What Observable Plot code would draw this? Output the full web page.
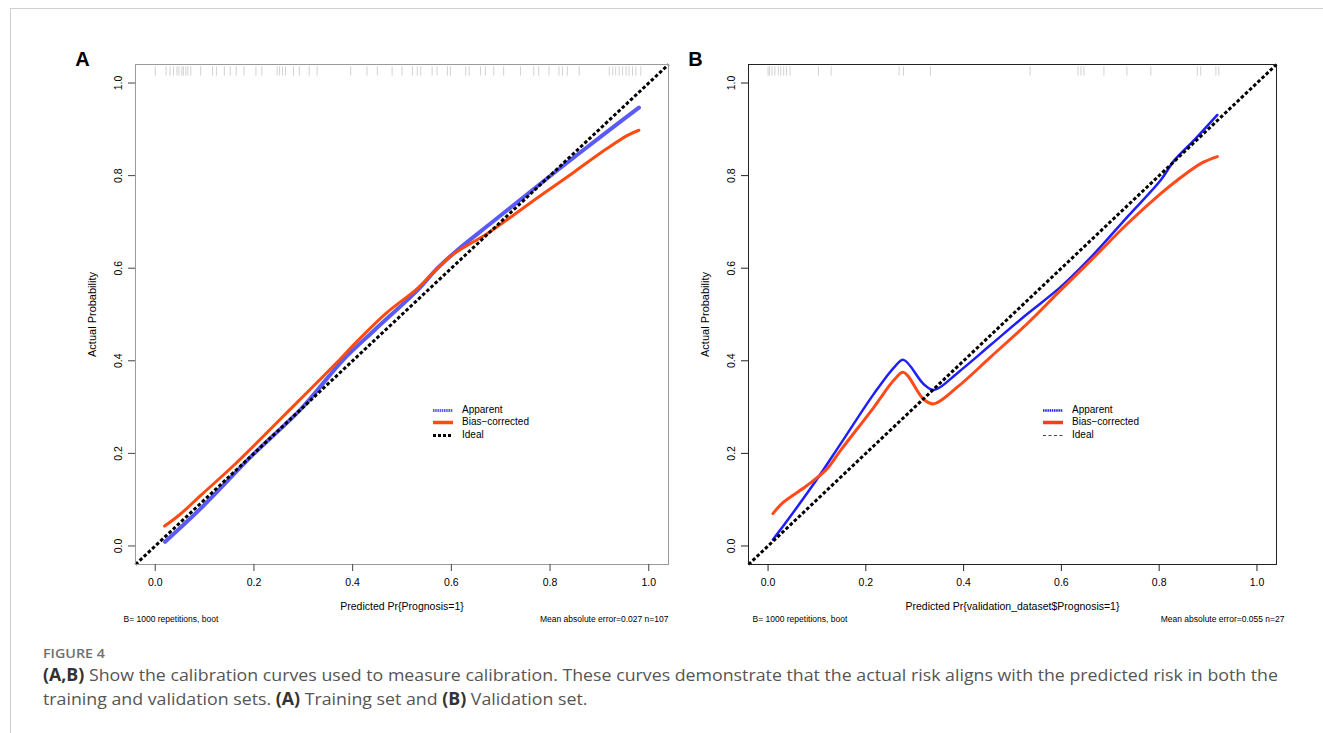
<!DOCTYPE html>
<html>
<head>
<meta charset="utf-8">
<script src="https://cdn.jsdelivr.net/npm/d3@7"></script>
<script src="https://cdn.jsdelivr.net/npm/@observablehq/plot@0.6"></script>
<style>
  html, body { margin: 0; padding: 0; background: #fff; }
  body { width: 1323px; height: 733px; position: relative; overflow: hidden; }
  #border { position: absolute; left: 10px; top: 8px; width: 1330px; height: 740px;
            border-top: 1px solid #cfcfcf; border-left: 1px solid #cfcfcf; }
  .panel { position: absolute; top: 40px; }
  .legend { position: absolute; font-family: "Liberation Sans", Arial, sans-serif; font-size: 10px; color: #000; }
  .cap { position: absolute; left: 43px; white-space: nowrap; transform-origin: 0 0;
         font-family: "Open Sans", "Noto Sans", sans-serif; color: #555; }
  .cap b { color: #333; font-weight: 700; }
</style>
</head>
<body>
<div id="border"></div>
<div id="pA" class="panel" style="left:60px"></div>
<div id="pB" class="panel" style="left:680px"></div>
<div id="legA" class="legend" style="left:430px;top:404px"></div>
<div id="legB" class="legend" style="left:1040px;top:404px"></div>
<div id="fig" class="cap" style="top:646px;font-size:12.5px;line-height:16px;color:#707070;font-weight:600">FIGURE 4</div>
<div id="l1" class="cap" style="top:664px;font-size:17px;line-height:22px"><b>(A,B)</b> Show the calibration curves used to measure calibration. These curves demonstrate that the actual risk aligns with the predicted risk in both the</div>
<div id="l2" class="cap" style="top:688px;font-size:17px;line-height:22px">training and validation sets. <b>(A)</b> Training set and <b>(B)</b> Validation set.</div>
<script>
// ---- axis / tick values ----
const axisRange = [-0.04, 1.04];
const tickValues = [0, 0.2, 0.4, 0.6, 0.8, 1.0];
const rugSpan = [1.015, 1.035];

// ---- Panel A (training set) ----
const aApparentX = [0.020, 0.095, 0.196, 0.298, 0.379, 0.443, 0.531, 0.571, 0.612, 0.680, 0.727, 0.781, 0.849, 0.916, 0.980];
const aApparentY = [0.009, 0.084, 0.195, 0.299, 0.400, 0.465, 0.552, 0.599, 0.639, 0.697, 0.737, 0.783, 0.840, 0.895, 0.947];
const aBiasX = [0.019, 0.050, 0.095, 0.162, 0.264, 0.365, 0.409, 0.467, 0.531, 0.571, 0.605, 0.632, 0.673, 0.781, 0.849, 0.916, 0.957, 0.980];
const aBiasY = [0.043, 0.068, 0.112, 0.177, 0.285, 0.393, 0.442, 0.502, 0.556, 0.599, 0.631, 0.649, 0.675, 0.757, 0.808, 0.859, 0.887, 0.898];
const aRug = [0.000, 0.022, 0.030, 0.037, 0.044, 0.048, 0.054, 0.057, 0.062, 0.066, 0.072, 0.092, 0.116, 0.124,
  0.140, 0.152, 0.164, 0.180, 0.204, 0.216, 0.247, 0.252, 0.258, 0.264, 0.280, 0.292, 0.312, 0.328, 0.396,
  0.429, 0.450, 0.480, 0.500, 0.521, 0.531, 0.538, 0.561, 0.571, 0.592, 0.598, 0.629, 0.636, 0.659, 0.669,
  0.686, 0.706, 0.740, 0.767, 0.777, 0.798, 0.818, 0.825, 0.835, 0.859, 0.920, 0.927, 0.933, 0.940, 0.947,
  0.954, 0.960, 0.967, 0.974, 0.984];

// ---- Panel B (validation set) ----
const bApparentX = [0.010, 0.031, 0.100, 0.148, 0.216, 0.258, 0.277, 0.318, 0.339, 0.390, 0.455, 0.530, 0.598, 0.667, 0.735, 0.803, 0.831, 0.872, 0.919];
const bApparentY = [0.014, 0.043, 0.144, 0.220, 0.328, 0.386, 0.402, 0.350, 0.337, 0.376, 0.434, 0.501, 0.559, 0.631, 0.711, 0.790, 0.833, 0.877, 0.931];
const bBiasX = [0.010, 0.031, 0.079, 0.120, 0.148, 0.216, 0.258, 0.277, 0.318, 0.339, 0.387, 0.455, 0.530, 0.598, 0.667, 0.735, 0.803, 0.837, 0.885, 0.919];
const bBiasY = [0.070, 0.094, 0.130, 0.166, 0.206, 0.299, 0.359, 0.375, 0.317, 0.307, 0.343, 0.408, 0.480, 0.552, 0.624, 0.696, 0.761, 0.790, 0.826, 0.841];
const bRug = [0.000, 0.003, 0.008, 0.014, 0.021, 0.026, 0.032, 0.038, 0.045, 0.103, 0.129, 0.268, 0.277, 0.332,
  0.536, 0.634, 0.640, 0.646, 0.687, 0.734, 0.783, 0.878, 0.885, 0.916, 0.922];

const legendLabels = ["Apparent", "Bias\u2212corrected", "Ideal"];

const fmt = d3.format(".1f");
const zip = (xs, ys) => xs.map((x, i) => ({x, y: ys[i]}));

function makePanel(cfg) {
  return Plot.plot({
    width: 620, height: 600,
    marginLeft: cfg.ml, marginRight: cfg.mr, marginTop: 24, marginBottom: 76,
    x: {domain: axisRange},
    y: {domain: axisRange},
    style: {fontFamily: "'Liberation Sans', Arial, sans-serif", fontSize: "10.5px", background: "transparent", overflow: "visible", color: "#000"},
    marks: [
      Plot.ruleX(cfg.rug, {x: d => d, y1: rugSpan[0], y2: rugSpan[1], stroke: "#d2d2d2", strokeWidth: 1}),
      Plot.line(zip(cfg.appX, cfg.appY), {x: "x", y: "y", stroke: cfg.appColor, strokeWidth: cfg.appWidth, curve: "catmull-rom"}),
      Plot.line(zip(cfg.bcX, cfg.bcY), {x: "x", y: "y", stroke: cfg.bcColor, strokeWidth: cfg.bcWidth, curve: "catmull-rom"}),
      Plot.line(zip(axisRange, axisRange), {x: "x", y: "y", stroke: "#000", strokeWidth: 3, strokeDasharray: "3.5,2.2", strokeLinecap: "butt"}),
      Plot.frame({stroke: cfg.frameColor}),
      Plot.axisX({ticks: tickValues, tickSize: 7, tickPadding: 7, tickFormat: fmt, label: null, stroke: cfg.tickColor}),
      Plot.axisY({ticks: tickValues, tickSize: 7, tickFormat: () => "", label: null, stroke: cfg.tickColor}),
      Plot.text(tickValues, {y: d => d, text: fmt, frameAnchor: "left", dx: -17, rotate: -90, textAnchor: "middle", lineAnchor: "middle"}),
      Plot.text([cfg.yTitle], {frameAnchor: "left", dx: -43, rotate: -90, textAnchor: "middle", lineAnchor: "middle", fontSize: 11}),
      Plot.text([cfg.xTitle], {frameAnchor: "bottom", dy: 42, textAnchor: "middle", lineAnchor: "middle", fontSize: 10.5}),
      Plot.text([cfg.letter], {frameAnchor: "top-left", dx: -53, dy: -5, textAnchor: "middle", lineAnchor: "middle", fontSize: 20, fontWeight: "bold"}),
      Plot.text([cfg.noteL], {frameAnchor: "bottom-left", dx: cfg.noteLdx, dy: 55, textAnchor: "start", lineAnchor: "middle", fontSize: 8.5}),
      Plot.text([cfg.noteR], {frameAnchor: "bottom-right", dx: cfg.noteRdx, dy: 55, textAnchor: "end", lineAnchor: "middle", fontSize: 8.5})
    ]
  });
}

document.getElementById("pA").append(makePanel({
  ml: 75, mr: 12,
  appX: aApparentX, appY: aApparentY, appColor: "#5a5af7", appWidth: 4,
  bcX: aBiasX, bcY: aBiasY, bcColor: "#ff4a10", bcWidth: 3,
  rug: aRug, frameColor: "#9a9a9a", tickColor: "#444",
  yTitle: "Actual Probability", xTitle: "Predicted Pr{Prognosis=1}", letter: "A",
  noteL: "B= 1000 repetitions, boot", noteLdx: -12,
  noteR: "Mean absolute error=0.027 n=107", noteRdx: 0
}));

document.getElementById("pB").append(makePanel({
  ml: 68, mr: 24,
  appX: bApparentX, appY: bApparentY, appColor: "#1e1eff", appWidth: 2.5,
  bcX: bBiasX, bcY: bBiasY, bcColor: "#ff4a1a", bcWidth: 3,
  rug: bRug, frameColor: "#222", tickColor: "#222",
  yTitle: "Actual Probability", xTitle: "Predicted Pr{validation_dataset$Prognosis=1}", letter: "B",
  noteL: "B= 1000 repetitions, boot", noteLdx: 4,
  noteR: "Mean absolute error=0.055 n=27", noteRdx: 8
}));

// ---- legends (inside plot area) ----
function legend(el, styles) {
  const rows = legendLabels.map((lab, i) => {
    const s = styles[i];
    return `<div style="position:absolute;left:0;top:${i * 12.4}px;height:12px;width:120px">
      <svg width="26" height="12" style="position:absolute;left:0;top:0"><line x1="3" x2="${s.len}" y1="6.5" y2="6.5" stroke="${s.c}" stroke-width="${s.w}" ${s.d ? `stroke-dasharray="${s.d}"` : ""}/></svg>
      <span style="position:absolute;left:32px;top:0;line-height:12px">${lab}</span></div>`;
  });
  el.innerHTML = rows.join("");
}
legend(document.getElementById("legA"), [
  {c: "#5a5af7", w: 3, d: "1.5,0.7", len: 23},
  {c: "#ff4a10", w: 3.5, len: 23},
  {c: "#000", w: 3, d: "3,2", len: 23}
]);
legend(document.getElementById("legB"), [
  {c: "#1e1eff", w: 2.5, d: "1.5,0.7", len: 23},
  {c: "#ff3a20", w: 3.5, len: 23},
  {c: "#444", w: 1, d: "3,2.5", len: 23}
]);

// ---- fit condensed caption widths ----
function fit(id, target) {
  const el = document.getElementById(id);
  const w = el.getBoundingClientRect().width;
  return target / w;
}
const s1 = fit("l1", 1235);
document.getElementById("l1").style.transform = `scaleX(${s1})`;
document.getElementById("l2").style.transform = `scaleX(${s1})`;
const sf = fit("fig", 62);
document.getElementById("fig").style.transform = `scaleX(${sf})`;
</script>
</body>
</html>
